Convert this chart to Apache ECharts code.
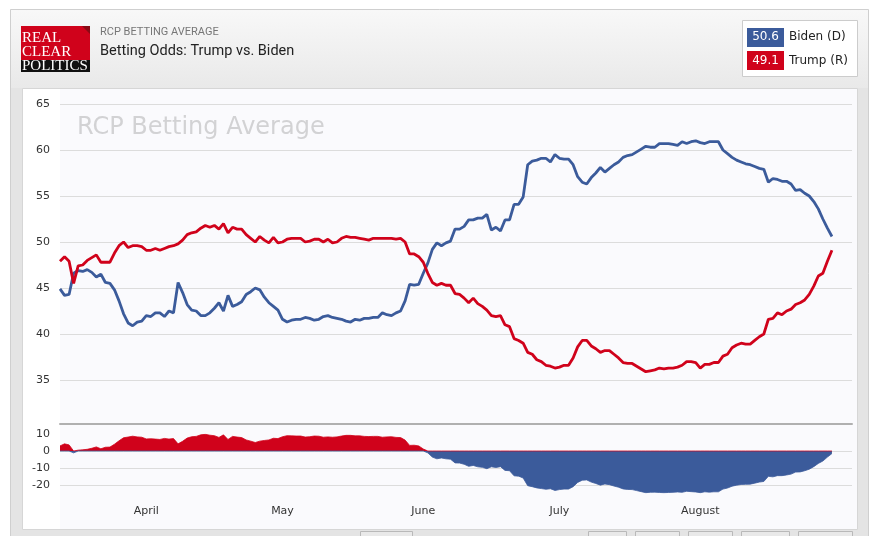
<!DOCTYPE html>
<html>
<head>
<meta charset="utf-8">
<script src="https://cdn.jsdelivr.net/npm/echarts@6/dist/echarts.min.js"></script>
<style>
html,body{margin:0;padding:0;background:#ffffff;}
#c{width:878px;height:536px;}
</style>
</head>
<body>
<div id="c"></div>
<script>
// ---- Data (daily RCP betting average) ----
const startDate = '2020-03-13';
const biden = [
  44.9, 44.2, 44.3, 46.6, 46.9, 46.8, 47.0, 46.7, 46.2, 46.5,
  45.6, 45.5, 44.8, 43.6, 42.2, 41.2, 40.9, 41.3, 41.4, 42.0,
  41.9, 42.3, 42.3, 41.9, 42.5, 42.3, 45.6, 44.5, 43.2, 42.6,
  42.5, 42.0, 42.0, 42.3, 42.8, 43.4, 42.5, 44.2, 43.0, 43.2,
  43.5, 44.3, 44.6, 45.0, 44.8, 44.0, 43.4, 43.0, 42.6, 41.6,
  41.3, 41.5, 41.6, 41.6, 41.8, 41.7, 41.5, 41.6, 41.9, 42.0,
  41.8, 41.7, 41.6, 41.4, 41.3, 41.6, 41.5, 41.7, 41.7, 41.8,
  41.8, 42.3, 42.1, 42.0, 42.3, 42.5, 43.6, 45.4, 45.3, 45.4,
  46.6, 47.7, 49.2, 49.9, 49.6, 49.9, 50.1, 51.4, 51.4, 51.7,
  52.4, 52.4, 52.6, 52.6, 53.0, 51.3, 51.6, 51.2, 52.4, 52.4,
  54.1, 54.1, 54.9, 58.4, 58.8, 58.9, 59.1, 59.1, 58.7, 59.5,
  59.1, 59.0, 59.0, 58.4, 57.1, 56.5, 56.3, 57.0, 57.5, 58.1,
  57.6, 58.0, 58.4, 58.7, 59.2, 59.4, 59.5, 59.8, 60.1, 60.4,
  60.3, 60.3, 60.7, 60.7, 60.7, 60.6, 60.5, 60.9, 60.7, 60.9,
  61.0, 60.8, 60.7, 60.9, 60.9, 60.9, 60.0, 59.6, 59.2, 58.9,
  58.7, 58.5, 58.4, 58.2, 58.0, 57.9, 56.5, 56.9, 56.8, 56.6,
  56.6, 56.3, 55.6, 55.7, 55.3, 55.0, 54.4, 53.6, 52.5, 51.5,
  50.6
];
const trump = [
  47.9, 48.4, 47.9, 45.5, 47.4, 47.5, 48.0, 48.3, 48.6, 47.8,
  47.8, 47.8, 48.8, 49.6, 50.0, 49.4, 49.6, 49.6, 49.5, 49.1,
  49.1, 49.3, 49.1, 49.3, 49.5, 49.6, 49.8, 50.2, 50.8, 51.0,
  51.1, 51.5, 51.8, 51.6, 51.8, 51.4, 52.0, 51.0, 51.6, 51.4,
  51.4, 50.8, 50.4, 50.0, 50.6, 50.2, 49.9, 50.5, 49.9, 50.0,
  50.3, 50.4, 50.4, 50.4, 50.0, 50.1, 50.3, 50.3, 50.0, 50.3,
  49.9, 50.0, 50.4, 50.6, 50.5, 50.5, 50.4, 50.3, 50.2, 50.4,
  50.4, 50.4, 50.4, 50.4, 50.3, 50.4, 50.0, 48.7, 48.7, 48.4,
  47.8, 46.6, 45.6, 45.3, 45.5, 45.3, 45.3, 44.4, 44.3, 43.9,
  43.4, 43.9, 43.3, 43.0, 42.6, 42.0, 41.9, 42.0, 41.0, 40.8,
  39.5, 39.3, 39.0, 38.0, 37.8, 37.2, 37.0, 36.6, 36.5, 36.3,
  36.4, 36.6, 36.6, 37.4, 38.6, 39.3, 39.3, 38.7, 38.4, 38.0,
  38.2, 38.2, 37.8, 37.4, 36.9, 36.8, 36.8, 36.5, 36.2, 35.9,
  36.0, 36.1, 36.3, 36.2, 36.3, 36.3, 36.4, 36.6, 37.0, 37.0,
  36.9, 36.3, 36.7, 36.7, 36.9, 36.9, 37.6, 37.8, 38.5, 38.8,
  39.0, 38.9, 38.9, 39.3, 39.7, 40.0, 41.6, 41.7, 42.3, 42.1,
  42.5, 42.7, 43.2, 43.4, 43.7, 44.3, 45.2, 46.3, 46.6, 47.9,
  49.1
];
const monthTicks = ['2020-04-01', '2020-05-01', '2020-06-01', '2020-07-01', '2020-08-01'];
const monthLabels = ['April', 'May', 'June', 'July', 'August'];
const axisEndDate = '2020-09-03';

// ---- Helpers ----
const BLUE = '#3b5b9b';
const RED = '#d0021b';
function toTs(s) { const p = s.split('-').map(Number); return new Date(p[0], p[1] - 1, p[2]).getTime(); }
const t0 = toTs(startDate);
const dates = biden.map((_, i) => { const d = new Date(t0); d.setDate(d.getDate() + i); return d.getTime(); });
const xMin = t0;
const xMax = toTs(axisEndDate) + 10 * 3600000;
const monthTs = monthTicks.map(toTs);
const bidenData = biden.map((v, i) => [dates[i], v]);
const trumpData = trump.map((v, i) => [dates[i], v]);
const spread = trump.map((v, i) => Math.round((v - biden[i]) * 10) / 10);
const trumpLead = spread.map((v, i) => [dates[i], v > 0 ? v : 0]);
const bidenLead = spread.map((v, i) => [dates[i], v < 0 ? v : 0]);
const lastB = biden[biden.length - 1].toFixed(1);
const lastT = trump[trump.length - 1].toFixed(1);

const FONT = '"DejaVu Sans", Verdana, sans-serif';

const chart = echarts.init(document.getElementById('c'), null, { renderer: 'canvas' });
const option = {
  animation: false,
  textStyle: { fontFamily: FONT },
  graphic: { elements: [
    { type: 'rect', z: -100, shape: { x: 10.5, y: 9.5, width: 858, height: 540 }, style: { fill: '#e4e4e4', stroke: '#cfcfcf', lineWidth: 1 } },
    { type: 'rect', z: -99, shape: { x: 11, y: 10, width: 857, height: 78 },
      style: { fill: new echarts.graphic.LinearGradient(0, 0, 0, 1, [{ offset: 0, color: '#f8f8f8' }, { offset: 1, color: '#e9e9e9' }]) } },
    { type: 'rect', z: -98, shape: { x: 22.5, y: 88.5, width: 835, height: 441 }, style: { fill: '#ffffff', stroke: '#d6d6d6', lineWidth: 1 } },
    { type: 'rect', z: -97, shape: { x: 60, y: 89, width: 797, height: 440 }, style: { fill: '#fafafd' } },
    { type: 'rect', z: -96, shape: { x: 360.5, y: 531.5, width: 52, height: 10 }, style: { fill: '#e9e9e9', stroke: '#b9b9b9' } },
    { type: 'rect', z: -96, shape: { x: 588.5, y: 531.5, width: 38, height: 10 }, style: { fill: '#e9e9e9', stroke: '#b9b9b9' } },
    { type: 'rect', z: -96, shape: { x: 635.5, y: 531.5, width: 44, height: 10 }, style: { fill: '#e9e9e9', stroke: '#b9b9b9' } },
    { type: 'rect', z: -96, shape: { x: 688.5, y: 531.5, width: 44, height: 10 }, style: { fill: '#e9e9e9', stroke: '#b9b9b9' } },
    { type: 'rect', z: -96, shape: { x: 741.5, y: 531.5, width: 48, height: 10 }, style: { fill: '#e9e9e9', stroke: '#b9b9b9' } },
    { type: 'rect', z: -96, shape: { x: 798.5, y: 531.5, width: 54, height: 10 }, style: { fill: '#e9e9e9', stroke: '#b9b9b9' } },
    { type: 'rect', z: 10, shape: { x: 21, y: 26, width: 69, height: 34 }, style: { fill: '#d0021b' } },
    { type: 'rect', z: 10, shape: { x: 21, y: 60, width: 69, height: 12 }, style: { fill: '#111111' } },
    { type: 'polygon', z: 11, shape: { points: [[82, 26], [90, 26], [90, 34]] }, style: { fill: '#8a0a15' } },
    { type: 'text', z: 12, x: 22, y: 38, style: { text: 'REAL', fill: '#ffffff', font: '15px "Liberation Serif", "Times New Roman", serif', verticalAlign: 'middle' } },
    { type: 'text', z: 12, x: 22, y: 52, style: { text: 'CLEAR', fill: '#ffffff', font: '15px "Liberation Serif", "Times New Roman", serif', verticalAlign: 'middle' } },
    { type: 'text', z: 12, x: 22, y: 66, style: { text: 'POLITICS', fill: '#ffffff', font: '15px "Liberation Serif", "Times New Roman", serif', verticalAlign: 'middle' } },
    { type: 'text', z: 12, x: 100, y: 32.5, style: { text: 'RCP BETTING AVERAGE', fill: '#777777', font: '11px Roboto, "Noto Sans", sans-serif', verticalAlign: 'middle' } },
    { type: 'text', z: 12, x: 100, y: 51, style: { text: 'Betting Odds: Trump vs. Biden', fill: '#222222', font: '14.5px Roboto, "Noto Sans", sans-serif', verticalAlign: 'middle' } },
    { type: 'rect', z: 10, shape: { x: 742.5, y: 20.5, width: 115, height: 56 }, style: { fill: '#ffffff', stroke: '#cccccc' } },
    { type: 'rect', z: 11, shape: { x: 747, y: 28, width: 37, height: 19 }, style: { fill: BLUE } },
    { type: 'text', z: 12, x: 765.5, y: 37, style: { text: lastB, fill: '#ffffff', font: '12px ' + FONT, align: 'center', verticalAlign: 'middle' } },
    { type: 'text', z: 12, x: 789, y: 37, style: { text: 'Biden (D)', fill: '#222222', font: '12px ' + FONT, verticalAlign: 'middle' } },
    { type: 'rect', z: 11, shape: { x: 747, y: 51, width: 37, height: 19 }, style: { fill: RED } },
    { type: 'text', z: 12, x: 765.5, y: 60.5, style: { text: lastT, fill: '#ffffff', font: '12px ' + FONT, align: 'center', verticalAlign: 'middle' } },
    { type: 'text', z: 12, x: 789, y: 60.5, style: { text: 'Trump (R)', fill: '#222222', font: '12px ' + FONT, verticalAlign: 'middle' } },
    { type: 'text', z: -90, x: 77, y: 128, style: { text: 'RCP Betting Average', fill: '#d2d2d4', font: '24px ' + FONT, verticalAlign: 'middle' } }
  ] },
  grid: [
    { left: 60, right: 26, top: 104, height: 322 },
    { left: 60, right: 26, top: 434, height: 68 }
  ],
  xAxis: [
    { type: 'value', gridIndex: 0, min: xMin, max: xMax, offset: -2,
      axisLabel: { show: false }, axisTick: { show: false }, splitLine: { show: false },
      axisLine: { show: true, lineStyle: { color: '#b0b0b0', width: 2 } } },
    { type: 'value', gridIndex: 1, min: xMin, max: xMax,
      axisLine: { show: false }, axisTick: { show: false }, splitLine: { show: false },
      axisLabel: { customValues: monthTs, color: '#333333', fontSize: 11, fontFamily: FONT, margin: 4, hideOverlap: false,
        formatter: function (v) { const i = monthTs.indexOf(v); return i >= 0 ? monthLabels[i] : ''; } } }
  ],
  yAxis: [
    { type: 'value', gridIndex: 0, min: 30, max: 65, interval: 5,
      axisLine: { show: false }, axisTick: { show: false },
      axisLabel: { color: '#333333', fontSize: 11, fontFamily: FONT, margin: 10, formatter: v => (v === 30 ? '' : String(v)) },
      splitLine: { show: true, showMinLine: false, lineStyle: { color: '#dcdcdc', width: 1 } } },
    { type: 'value', gridIndex: 1, min: -30, max: 10, interval: 10,
      axisLine: { show: false }, axisTick: { show: false },
      axisLabel: { color: '#333333', fontSize: 11, fontFamily: FONT, margin: 10, formatter: v => (v === -30 ? '' : String(v)) },
      splitLine: { show: true, showMinLine: false, showMaxLine: false, lineStyle: { color: '#dcdcdc', width: 1 } } }
  ],
  series: [
    { name: 'Biden (D)', type: 'line', xAxisIndex: 0, yAxisIndex: 0, data: bidenData,
      symbol: 'none', showSymbol: false, lineStyle: { color: BLUE, width: 2.8 }, itemStyle: { color: BLUE }, z: 3 },
    { name: 'Trump (R)', type: 'line', xAxisIndex: 0, yAxisIndex: 0, data: trumpData,
      symbol: 'none', showSymbol: false, lineStyle: { color: RED, width: 2.8 }, itemStyle: { color: RED }, z: 3 },
    { name: 'Trump lead', type: 'line', xAxisIndex: 1, yAxisIndex: 1, data: trumpLead,
      symbol: 'none', showSymbol: false, lineStyle: { width: 0.8, color: RED }, itemStyle: { color: RED },
      areaStyle: { color: RED, opacity: 1, origin: 0 }, z: 3 },
    { name: 'Biden lead', type: 'line', xAxisIndex: 1, yAxisIndex: 1, data: bidenLead,
      symbol: 'none', showSymbol: false, lineStyle: { width: 0.8, color: BLUE }, itemStyle: { color: BLUE },
      areaStyle: { color: BLUE, opacity: 1, origin: 0 }, z: 3 }
  ]
};
chart.setOption(option);
</script>
</body>
</html>
